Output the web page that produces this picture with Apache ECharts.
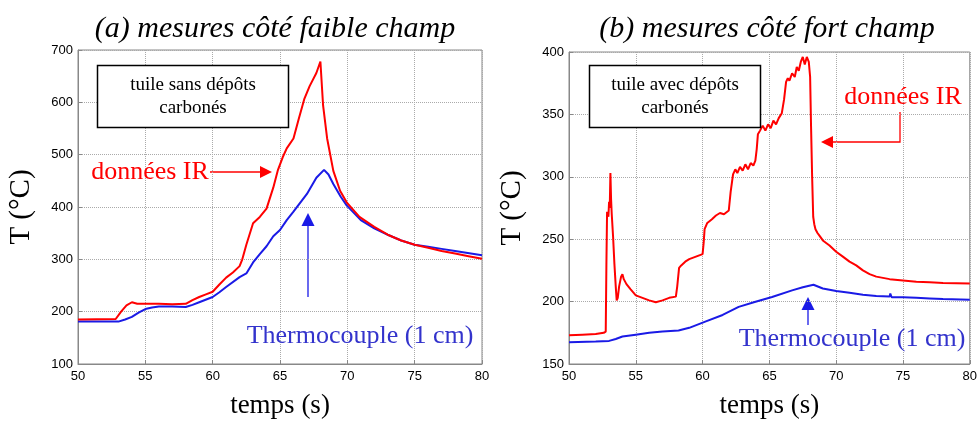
<!DOCTYPE html>
<html>
<head>
<meta charset="utf-8">
<script src="https://cdn.jsdelivr.net/npm/echarts@6/dist/echarts.min.js"></script>
<style>html,body{margin:0;padding:0;background:#fff;}#c{width:980px;height:424px;}</style>
</head>
<body>
<div id="c"></div>
<script>
// ---- Data ----
const titles = ['(a) mesures côté faible champ', '(b) mesures côté fort champ'];
const xName = 'temps (s)';
const yName = 'T (°C)';
const xTicks = [50, 55, 60, 65, 70, 75, 80];
const yTicksA = [100, 200, 300, 400, 500, 600, 700];
const yTicksB = [150, 200, 250, 300, 350, 400];

// Panel (a) - IR data
const irA_t = [50, 52.8, 53.2, 53.6, 54, 54.4, 55, 56, 57, 58, 58.5, 59, 59.5, 60, 60.5, 61, 61.5, 62, 62.2, 62.5, 63, 63.5, 64, 64.5, 64.85, 65.2, 65.5, 66, 66.4, 66.8, 67.2, 67.7, 68, 68.2, 68.5, 68.96, 69.46, 69.95, 70.9, 72, 73, 74, 75, 76, 77, 78, 79, 80];
const irA   = [185, 186, 200, 212, 218, 215, 215, 215, 214, 215, 222, 228, 233, 238, 252, 265, 275, 287, 300, 328, 369, 381, 397, 437, 471, 495, 512, 531, 569, 606, 631, 656, 678, 594, 531, 469, 431, 409, 381, 362, 347, 336, 328, 322, 316, 311, 306, 301];
// Panel (a) - thermocouple
const tcA_t = [50, 53, 53.5, 54, 54.5, 55, 55.5, 56, 57, 58, 58.5, 59, 60, 60.5, 61, 62, 62.5, 63, 63.5, 64, 64.5, 65, 65.5, 66, 67, 67.7, 68.27, 68.6, 68.96, 69.5, 69.95, 71, 72, 73, 74, 75, 76, 77, 78, 80];
const tcA   = [181, 181, 185, 190, 198, 205, 208, 210, 210, 209, 213, 218, 228, 237, 247, 266, 273, 294, 310, 325, 344, 356, 375, 391, 425, 456, 471, 462, 444, 420, 403, 375, 359, 347, 336, 328, 324, 320, 316, 308];

// Panel (b) - IR data
const irB_t = [50, 51, 52, 52.6, 52.75, 52.8, 52.85, 52.95, 53.0, 53.05, 53.1, 53.15, 53.2, 53.3, 53.4, 53.5, 53.57, 53.65, 53.75, 53.9, 54.0, 54.1, 54.3, 54.6, 55, 55.5, 56, 56.5, 57, 57.5, 58, 58.1, 58.24, 58.4, 58.7, 59, 59.5, 60, 60.08, 60.15, 60.35, 60.7, 61, 61.3, 61.6, 61.96, 62.1, 62.28, 62.45, 62.6, 62.8, 63.0, 63.2, 63.4, 63.6, 63.8, 63.95, 64.05, 64.14, 64.3, 64.5, 64.7, 64.9, 65.1, 65.3, 65.5, 65.7, 65.93, 66.1, 66.25, 66.38, 66.5, 66.7, 66.9, 67.05, 67.2, 67.35, 67.5, 67.65, 67.8, 67.95, 68.05, 68.12, 68.2, 68.28, 68.36, 68.45, 68.6, 68.8, 69, 69.5, 70, 70.5, 71, 71.5, 72, 72.5, 73, 74, 75, 76, 77, 78, 80];
const irB   = [173, 173.5, 174, 175, 176, 230, 272, 268, 280, 275, 303, 282, 270, 252, 230, 212, 201, 203, 212, 220, 222, 218, 214, 210, 205, 203, 201, 199.5, 201, 203, 204, 212, 227, 229, 232, 234, 236, 238, 247, 258, 263, 266, 269, 271, 270, 273, 288, 302, 306, 303, 308, 305, 310, 306, 311, 309, 313, 322, 334, 337, 341, 337, 342, 339, 345, 342, 347, 351, 362, 376, 379, 377, 383, 380, 388, 385, 392, 396, 390, 396, 392, 380, 340, 300, 268, 262, 258, 255, 252, 249, 245, 240, 236, 232, 229, 225, 222, 220, 218, 217, 216, 215.5, 215, 214.5];
// Panel (b) - thermocouple
const tcB_t = [50, 52, 53, 53.5, 54, 55, 56, 57, 58.2, 59, 60.2, 61.5, 62.7, 63.9, 65.2, 66.7, 67.5, 68.3, 69, 70, 71, 72, 73, 74, 74.05, 74.15, 75, 76, 77, 78, 80];
const tcB   = [167.5, 168, 168.5, 170, 172, 173.5, 175, 176, 176.8, 179, 184, 189.3, 195.8, 199.7, 203.7, 209, 211.5, 213.5, 210.5, 208.5, 207, 205.5, 204.5, 204, 206.5, 203.5, 203.5, 203, 202.5, 202, 201.5];

// Annotation texts
const boxTextA = 'tuile sans dépôts\ncarbonés';
const boxTextB = 'tuile avec dépôts\ncarbonés';
const irLabel = 'données IR';
const tcLabel = 'Thermocouple (1 cm)';

// ---- Build ----
const pairs = (t, v) => t.map((x, i) => [x, v[i]]);
const RED = '#ff0000';
const BLUE = '#1a1ae6';
const TXTBLUE = '#3333cc';

function xAxisCfg(g) {
  return {
    gridIndex: g, type: 'value', min: xTicks[0], max: xTicks[xTicks.length - 1], interval: 5,
    axisLine: { show: true, lineStyle: { color: '#888', width: 1 } },
    axisTick: { show: true, inside: true, length: 4, lineStyle: { color: '#888' } },
    splitLine: { show: true, lineStyle: { type: 'dotted', color: '#aaa', width: 1 } },
    axisLabel: { color: '#000', fontSize: 13, fontFamily: 'Liberation Sans', margin: 6 },
    name: xName, nameLocation: 'middle', nameGap: 28,
    nameTextStyle: { fontFamily: 'Liberation Serif', fontSize: 27, color: '#000' }
  };
}
function yAxisCfg(g, ticks) {
  return {
    gridIndex: g, type: 'value', min: ticks[0], max: ticks[ticks.length - 1], interval: ticks[1] - ticks[0],
    axisLine: { show: true, lineStyle: { color: '#888', width: 1 } },
    axisTick: { show: true, inside: true, length: 4, lineStyle: { color: '#888' } },
    splitLine: { show: true, lineStyle: { type: 'dotted', color: '#aaa', width: 1 } },
    axisLabel: { color: '#000', fontSize: 13, fontFamily: 'Liberation Sans', margin: 5 },
    name: yName, nameLocation: 'middle', nameGap: 42,
    nameTextStyle: { fontFamily: 'Liberation Serif', fontSize: 29, color: '#000' }
  };
}
function line(g, data, color) {
  return {
    type: 'line', xAxisIndex: g, yAxisIndex: g, data: data, symbol: 'none',
    lineStyle: { color: color, width: 2 }, itemStyle: { color: color }, z: 3
  };
}

function arrowRight(x1, x2, y, color) {
  return [
    { type: 'line', shape: { x1: x1, y1: y, x2: x2 - 11, y2: y }, style: { stroke: color, lineWidth: 1.3 } },
    { type: 'polygon', shape: { points: [[x2, y], [x2 - 12, y - 6], [x2 - 12, y + 6]] }, style: { fill: color } }
  ];
}
function arrowUp(x, yBottom, yTip, color) {
  return [
    { type: 'line', shape: { x1: x, y1: yBottom, x2: x, y2: yTip + 11 }, style: { stroke: color, lineWidth: 1.3 } },
    { type: 'polygon', shape: { points: [[x, yTip], [x - 6.5, yTip + 13], [x + 6.5, yTip + 13]] }, style: { fill: color } }
  ];
}

const serif = 'Liberation Serif';
const graphics = [
  { type: 'text', style: { text: titles[0], x: 275, y: 29, textAlign: 'center', textVerticalAlign: 'middle', font: 'italic 30px "Liberation Serif"', fill: '#000' } },
  { type: 'text', style: { text: titles[1], x: 767, y: 29, textAlign: 'center', textVerticalAlign: 'middle', font: 'italic 30px "Liberation Serif"', fill: '#000' } },
  // boxes
  { type: 'rect', shape: { x: 97.5, y: 65.5, width: 191, height: 62 }, style: { fill: '#fff', stroke: '#000', lineWidth: 1.5 }, z: 10 },
  { type: 'text', z: 11, style: { text: boxTextA, x: 193, y: 97, textAlign: 'center', textVerticalAlign: 'middle', fontFamily: serif, fontSize: 19, lineHeight: 23, fill: '#000' } },
  { type: 'rect', shape: { x: 589.5, y: 65.5, width: 171, height: 62 }, style: { fill: '#fff', stroke: '#000', lineWidth: 1.5 }, z: 10 },
  { type: 'text', z: 11, style: { text: boxTextB, x: 675, y: 97, textAlign: 'center', textVerticalAlign: 'middle', fontFamily: serif, fontSize: 19, lineHeight: 23, fill: '#000' } },
  // panel a annotations
  { type: 'text', z: 11, style: { text: irLabel, x: 150, y: 172, textAlign: 'center', textVerticalAlign: 'middle', fontFamily: serif, fontSize: 26, fill: RED } },
  ...arrowRight(210, 272, 172, RED),
  ...arrowUp(308, 297, 213, BLUE),
  { type: 'text', z: 11, style: { text: tcLabel, x: 360, y: 336, textAlign: 'center', textVerticalAlign: 'middle', fontFamily: serif, fontSize: 26, fill: TXTBLUE } },
  // panel b annotations
  { type: 'text', z: 11, style: { text: irLabel, x: 903, y: 97, textAlign: 'center', textVerticalAlign: 'middle', fontFamily: serif, fontSize: 26, fill: RED } },
  { type: 'polyline', shape: { points: [[900, 112], [900, 142], [832, 142]] }, style: { stroke: RED, lineWidth: 1.3, fill: null } },
  { type: 'polygon', shape: { points: [[821, 142], [833, 136], [833, 148]] }, style: { fill: RED } },
  ...arrowUp(808, 325, 297, BLUE),
  { type: 'text', z: 11, style: { text: tcLabel, x: 852, y: 339, textAlign: 'center', textVerticalAlign: 'middle', fontFamily: serif, fontSize: 26, fill: TXTBLUE } }
];

const chart = echarts.init(document.getElementById('c'), null, { renderer: 'canvas' });
chart.setOption({
  animation: false,
  backgroundColor: '#fff',
  grid: [
    { left: 78, top: 50, width: 404, height: 319, show: true, borderColor: '#888', borderWidth: 1, backgroundColor: 'transparent' },
    { left: 569, top: 52, width: 403, height: 317, show: true, borderColor: '#888', borderWidth: 1, backgroundColor: 'transparent' }
  ],
  xAxis: [xAxisCfg(0), xAxisCfg(1)],
  yAxis: [yAxisCfg(0, yTicksA), yAxisCfg(1, yTicksB)],
  series: [
    line(0, pairs(tcA_t, tcA), BLUE),
    line(0, pairs(irA_t, irA), RED),
    line(1, pairs(tcB_t, tcB), BLUE),
    line(1, pairs(irB_t, irB), RED)
  ],
  graphic: graphics
});
</script>
</body>
</html>
